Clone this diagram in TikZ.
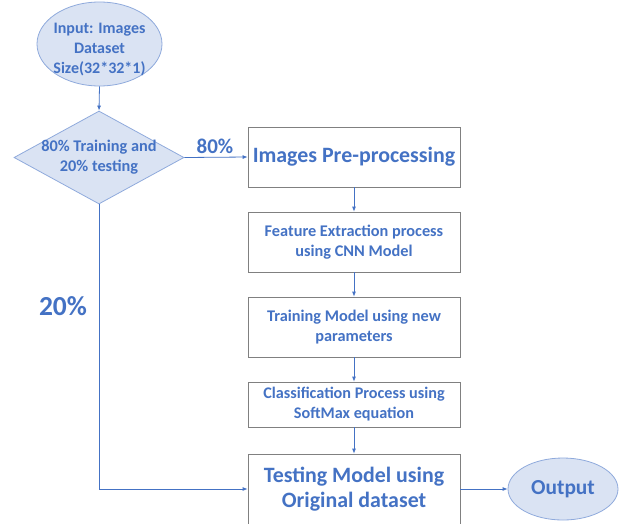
\documentclass[tikz,border=0pt]{standalone}
\usepackage{fontspec}
\setmainfont{Carlito}
\usetikzlibrary{shapes.geometric,arrows.meta}
\definecolor{tblue}{HTML}{4472C4}
\definecolor{lblue}{HTML}{DAE3F3}
\definecolor{eborder}{HTML}{8FAADC}
\definecolor{bgray}{HTML}{808080}
\begin{document}
\begin{tikzpicture}[x=1pt,y=-1pt,
 txt/.style={font=\bfseries, text=tblue, align=center, inner sep=0pt},
 proc/.style={draw=bgray, line width=0.8pt, fill=white, minimum width=212pt, inner sep=0pt, font=\bfseries, text=tblue, align=center},
 term/.style={ellipse, draw=eborder, fill=lblue, line width=0.8pt, inner sep=0pt, font=\bfseries, text=tblue, align=center},
 conn/.style={draw=tblue, line width=0.8pt, -{Latex[length=5pt,width=4pt]}},
]
\useasboundingbox (0,0) rectangle (619,523);
\node[term, minimum width=125pt, minimum height=84pt] (in) at (99.5,44) {};
\node[txt, font=\bfseries\fontsize{16}{20}\selectfont] (intxt) at (99.5,50) {Input: Images\\Dataset\\Size(32*32*1)};
\node[diamond, draw=eborder, fill=lblue, line width=0.8pt, minimum width=170pt, minimum height=93pt, inner sep=0pt] (d) at (99,157.5) {};
\node[txt, font=\bfseries\fontsize{16.3}{20}\selectfont] (dt) at (d.center) {80\% Training and\\20\% testing};
\node[proc, minimum height=60pt, font=\bfseries\fontsize{21.9}{25}\selectfont] (b1) at (354,157) {Images Pre-processing};
\node[proc, minimum height=60pt, font=\bfseries\fontsize{16.3}{19.5}\selectfont] (b2) at (354,242) {Feature Extraction process\\using CNN Model};
\node[proc, minimum height=60pt, font=\bfseries\fontsize{16.3}{20}\selectfont] (b3) at (354,327) {Training Model using new\\parameters};
\node[proc, minimum height=45pt, font=\bfseries\fontsize{16.2}{20}\selectfont] (b4) at (354,404.5) {Classification Process using\\SoftMax equation};
\node[proc, minimum height=70pt, font=\bfseries\fontsize{21.9}{25}\selectfont] (b5) at (354,489) {Testing Model using\\Original dataset};
\node[term, minimum width=110pt, minimum height=62pt, font=\bfseries\fontsize{21.4}{25}\selectfont] (out) at (563,489) {Output};
\node[txt, font=\bfseries\fontsize{21}{25}\selectfont] (l80) at (215,146) {80\%};
\node[txt, font=\bfseries\fontsize{27.5}{32}\selectfont] (l20) at (63,306) {20\%};
\draw[conn] (in.south) -- (d.north);
\draw[conn] (d.east) -- (b1.west);
\draw[conn] (b1.south) -- (b2.north);
\draw[conn] (b2.south) -- (b3.north);
\draw[conn] (b3.south) -- (b4.north);
\draw[conn] (b4.south) -- (b5.north);
\draw[conn] (d.south) |- (b5.west);
\draw[conn] (b5.east) -- (out.west);
\end{tikzpicture}
\end{document}
